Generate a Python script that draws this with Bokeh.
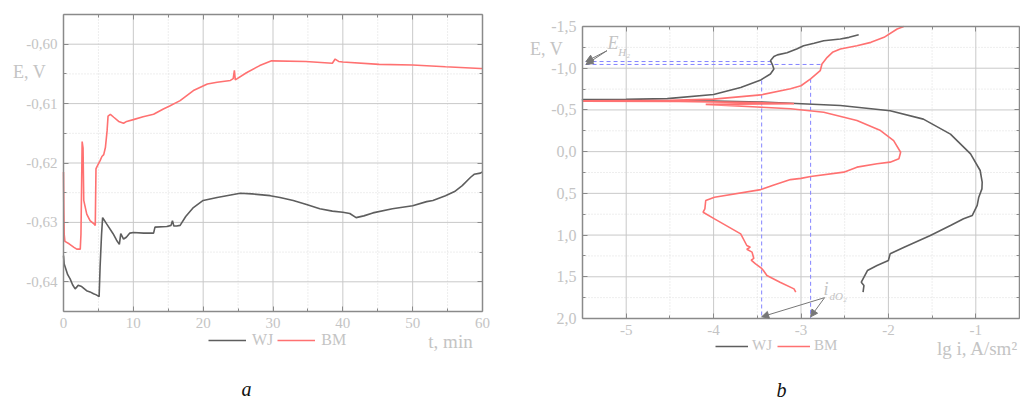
from bokeh.plotting import figure
from bokeh.layouts import row
from bokeh.models import (FixedTicker, CustomJSTickFormatter, LinearAxis, Label,
                          Legend, LegendItem, Arrow, NormalHead, Range1d)
from bokeh.embed import file_html
from bokeh.resources import INLINE

# ---------------- panel a : E vs time ----------------
t_wj = [0, 0.1, 0.24, 0.6, 0.95, 1.3, 1.67, 2.1, 2.6, 3.0, 3.3, 3.8, 4.3, 4.7, 5.1,
        5.24, 5.45, 5.6, 6.2, 7.1, 7.6, 8.0, 8.2, 8.6, 9.0, 9.5, 10.0, 11.5, 12.9, 13.1,
        14.8, 15.4, 15.6, 15.8, 16.2, 16.7, 17.5, 18.6, 20.0, 22.0, 25.3, 27.0, 29.6, 31.0,
        32.9, 34.8, 36.7, 38.5, 40.0, 41.0, 41.9, 43.0, 44.3, 47.1, 50.0, 52.0, 52.9, 54.7,
        56.0, 57.1, 58.3, 58.8, 59.7, 60.0]
e_wj = [-0.6356, -0.6370, -0.6375, -0.6388, -0.6395, -0.6405, -0.6412, -0.6406, -0.6408,
        -0.6412, -0.6415, -0.6417, -0.6420, -0.6422, -0.6425, -0.6375, -0.6320, -0.6292,
        -0.6303, -0.6319, -0.6330, -0.6337, -0.6319, -0.6328, -0.6325, -0.6318, -0.6317,
        -0.6318, -0.6318, -0.6308, -0.6307, -0.6305, -0.6297, -0.6306, -0.6306, -0.6305,
        -0.6290, -0.6275, -0.6263, -0.6258, -0.6251, -0.6252, -0.6255, -0.6258, -0.6263,
        -0.6270, -0.6277, -0.6281, -0.6283, -0.6285, -0.6292, -0.6289, -0.6284, -0.6277,
        -0.6272, -0.6265, -0.6263, -0.6255, -0.6248, -0.6238, -0.6224, -0.6219, -0.6217,
        -0.6215]

t_bm = [0, 0.05, 0.1, 0.2, 0.8, 1.5, 1.9, 2.4, 2.5, 2.6, 2.67, 2.8, 2.9, 3.33, 3.8, 4.4,
        4.55, 4.65, 4.76, 5.24, 5.5, 5.76, 6.0, 6.24, 6.38, 6.71, 7.2, 7.9, 8.6, 9.05, 10.0,
        11.4, 12.9, 14.3, 15.2, 16.7, 18.6, 20.6, 22.0, 23.9, 24.3, 24.47, 24.6, 26.2, 28.1,
        29.8, 34.7, 38.5, 38.9, 39.4, 40.0, 45.2, 50.0, 54.7, 59.7, 60.0]
e_bm = [-0.6215, -0.6280, -0.6320, -0.6332, -0.6336, -0.6342, -0.6345, -0.6345, -0.6320,
        -0.6230, -0.6164, -0.6175, -0.6263, -0.6286, -0.6297, -0.6303, -0.6305, -0.6210,
        -0.6207, -0.6196, -0.6189, -0.6186, -0.6174, -0.6146, -0.6121, -0.6118, -0.6123,
        -0.6130, -0.6133, -0.6130, -0.6127, -0.6122, -0.6118, -0.6109, -0.6104, -0.6095,
        -0.6078, -0.6067, -0.6064, -0.6061, -0.6058, -0.6044, -0.6060, -0.6048, -0.6036,
        -0.6028, -0.6029, -0.6032, -0.6025, -0.6029, -0.6030, -0.6034, -0.6035, -0.6038,
        -0.6041, -0.6041]

a_xbox = [0, 60]          # left, right
a_ybox = [-0.645, -0.595]  # bottom, top
a_xticks = [0, 10, 20, 30, 40, 50, 60]
a_xminor = [5, 15, 25, 35, 45, 55]
a_yticks = [-0.64, -0.63, -0.62, -0.61, -0.60]
a_yminor = [-0.635, -0.625, -0.615, -0.605]

# ---------------- panel b : polarisation curves ----------------
lgi_wj = [-2.34, -2.45, -2.55, -2.74, -2.85, -2.97, -3.05, -3.16, -3.27, -3.31, -3.35,
          -3.33, -3.31, -3.35, -3.46, -3.69, -4.0, -4.53, -5.0, -5.5, -5.5, -5.0, -4.0,
          -3.46, -3.12, -2.55, -1.98, -1.6, -1.29, -1.06, -0.95, -0.927, -0.93, -0.966,
          -0.984, -1.04, -1.14, -1.29, -1.52, -1.82, -1.98, -2.0, -2.13, -2.24, -2.31,
          -2.28, -2.29]
E_wj = [-1.40, -1.37, -1.35, -1.33, -1.30, -1.27, -1.23, -1.185, -1.16, -1.14, -1.09,
        -1.05, -0.99, -0.93, -0.86, -0.77, -0.685, -0.635, -0.627, -0.624, -0.618, -0.612,
        -0.605, -0.595, -0.58, -0.553, -0.49, -0.39, -0.21, 0.026, 0.226, 0.366, 0.446,
        0.546, 0.645, 0.765, 0.805, 0.885, 1.005, 1.145, 1.225, 1.305, 1.365, 1.425,
        1.565, 1.605, 1.685]

lgi_bm = [-1.825, -1.90, -2.05, -2.20, -2.36, -2.55, -2.64, -2.70, -2.76, -2.78, -2.89,
          -3.0, -3.12, -3.46, -4.0, -4.5, -5.5, -5.5, -4.4, -3.5, -3.08, -4.09, -3.5,
          -3.12, -2.74, -2.36, -2.09, -1.94, -1.86, -1.88, -1.98, -2.13, -2.36, -2.51,
          -2.89, -3.0, -3.12, -3.31, -3.46, -3.99, -4.09, -4.10, -4.12, -3.99, -3.69,
          -3.62, -3.58, -3.62, -3.56, -3.54, -3.57, -3.52, -3.45, -3.43, -3.39, -3.24,
          -3.08, -3.06]
E_bm = [-1.50, -1.47, -1.37, -1.31, -1.27, -1.23, -1.19, -1.13, -1.05, -0.97, -0.873,
        -0.79, -0.753, -0.68, -0.63, -0.615, -0.61, -0.606, -0.603, -0.588, -0.575,
        -0.567, -0.535, -0.515, -0.473, -0.373, -0.253, -0.133, 0.007, 0.086, 0.126,
        0.146, 0.186, 0.246, 0.298, 0.32, 0.335, 0.40, 0.455, 0.546, 0.586, 0.686, 0.726,
        0.806, 0.986, 1.125, 1.145, 1.17, 1.205, 1.28, 1.30, 1.345, 1.40, 1.425, 1.485,
        1.565, 1.645, 1.685]

# construction lines: hydrogen potentials and limiting diffusion currents
e_h2_levels = [-1.08, -1.045]
e_h2_ends = [-3.33, -2.76]
i_do2_levels = [-3.45, -2.89]
i_do2_tops = [-0.853, -0.873]

b_xbox = [-5.5, -0.5]     # left, right
b_ybox = [2.0, -1.5]      # bottom, top (E axis runs downward)
b_xticks = [-5, -4, -3, -2, -1]
b_xminor = [-4.5, -3.5, -2.5, -1.5]
b_yticks = [-1.5, -1.0, -0.5, 0.0, 0.5, 1.0, 1.5, 2.0]
b_yminor = [-1.25, -0.75, -0.25, 0.25, 0.75, 1.25, 1.75]

# ---------------- styles ----------------
TXT = "#c4c4c4"
AXIS = "#8a8a8a"
GRID = "#c9c9c9"
MINOR = "#dcdcdc"
WJ_COL = "#5e5e5e"
BM_COL = "#ff7171"
DASH = "#8484ff"
FONT = "'Liberation Serif', 'Times New Roman', serif"


def fmt(code):
    return CustomJSTickFormatter(code=code)


def make_fig(width, xr, yr):
    p = figure(width=width, height=403, x_range=xr, y_range=yr,
               x_axis_location=None, y_axis_location=None,
               output_backend="svg", toolbar_location=None,
               min_border=0, min_border_left=0, min_border_right=0,
               min_border_top=0, min_border_bottom=0)
    p.title.visible = False
    p.grid.visible = False
    p.outline_line_color = None
    p.background_fill_color = "white"
    p.border_fill_color = "white"
    return p


def box(p, xb, yb, xt, xm, yt, ym, xcode, ycode, xsize, ysize):
    # grid
    p.segment(x0=xm, y0=[yb[0]] * len(xm), x1=xm, y1=[yb[1]] * len(xm),
              line_color=MINOR, line_dash="1 2", line_width=1)
    p.segment(x0=[xb[0]] * len(ym), y0=ym, x1=[xb[1]] * len(ym), y1=ym,
              line_color=MINOR, line_dash="1 2", line_width=1)
    p.segment(x0=xt, y0=[yb[0]] * len(xt), x1=xt, y1=[yb[1]] * len(xt),
              line_color=GRID, line_width=1)
    p.segment(x0=[xb[0]] * len(yt), y0=yt, x1=[xb[1]] * len(yt), y1=yt,
              line_color=GRID, line_width=1)
    xtk = FixedTicker(ticks=xt, minor_ticks=xm)
    ytk = FixedTicker(ticks=yt, minor_ticks=ym)
    specs = [("below", xtk, yb[0], xb, xcode, xsize),
             ("above", xtk, yb[1], xb, "return ''", "1px"),
             ("left", ytk, xb[0], yb, ycode, ysize),
             ("right", ytk, xb[1], yb, "return ''", "1px")]
    for place, tk, loc, bnd, code, size in specs:
        ax = LinearAxis(ticker=tk, formatter=fmt(code), fixed_location=loc,
                        bounds=(min(bnd), max(bnd)))
        ax.axis_line_color = AXIS
        ax.axis_line_width = 1.5
        ax.major_tick_line_color = AXIS
        ax.minor_tick_line_color = AXIS
        ax.major_tick_in = 5
        ax.major_tick_out = 0
        ax.minor_tick_in = 3
        ax.minor_tick_out = 0
        ax.major_label_text_font = FONT
        ax.major_label_text_font_size = size
        ax.major_label_text_color = TXT
        ax.major_label_standoff = 6
        p.add_layout(ax, place)


def legend(p, r1, r2, loc, gw, size, standoff, spacing):
    lg = Legend(items=[LegendItem(label="WJ", renderers=[r1]),
                       LegendItem(label="BM", renderers=[r2])],
                location=loc, orientation="horizontal",
                border_line_alpha=0, background_fill_alpha=0,
                label_text_font=FONT, label_text_font_size=size,
                label_text_color=TXT, glyph_width=gw, glyph_height=16,
                label_height=16, label_standoff=standoff, spacing=spacing,
                padding=0, margin=0)
    p.add_layout(lg)


def label(p, x, y, text, size, color=TXT, style="normal", align="center"):
    p.add_layout(Label(x=x, y=y, text=text, text_font=FONT, text_font_size=size,
                       text_color=color, text_font_style=style, text_align=align,
                       text_baseline="middle"))


# ---------------- panel a ----------------
pa = make_fig(510, Range1d(-9.022, 64.01), Range1d(-0.660488, -0.592643))
box(pa, a_xbox, a_ybox, a_xticks, a_xminor, a_yticks, a_yminor,
    "return tick.toFixed(0)", "return tick.toFixed(2).replace('.', ',')", "15px", "15px")
ra1 = pa.line(t_wj, e_wj, line_color=WJ_COL, line_width=1.6)
ra2 = pa.line(t_bm, e_bm, line_color=BM_COL, line_width=1.6)
legend(pa, ra1, ra2, (208, 54), 38, "16px", 6, 4)
label(pa, -4.869, -0.60476, "E, V", "18px")
label(pa, 55.42, -0.65005, "t, min", "19px")
label(pa, 26.2, -0.65813, "a", "20px", color="#111111", style="italic")

# ---------------- panel b ----------------
pb = make_fig(510, Range1d(-6.3238, -0.48856), Range1d(3.0188, -1.8116))
box(pb, b_xbox, b_ybox, b_xticks, b_xminor, b_yticks, b_yminor,
    "return tick.toFixed(0)", "return tick.toFixed(1).replace('.', ',')", "15px", "16px")

for lev, end in zip(e_h2_levels, e_h2_ends):
    pb.line([-5.465, end], [lev, lev], line_color=DASH, line_dash="4 3", line_width=1)
for lev, top in zip(i_do2_levels, i_do2_tops):
    pb.line([lev, lev], [top, 2.0], line_color=DASH, line_dash="4 3", line_width=1)

rb1 = pb.line(lgi_wj, E_wj, line_color=WJ_COL, line_width=1.6)
rb2 = pb.line(lgi_bm, E_bm, line_color=BM_COL, line_width=1.6)
legend(pb, rb1, rb2, (205, 49), 33, "15px", 4, 5)

for lev in e_h2_levels:
    pb.add_layout(Arrow(end=NormalHead(size=7, line_color="#777777", fill_color="#777777"),
                        x_start=-5.22, y_start=-1.21, x_end=-5.46, y_end=lev,
                        line_color="#777777", line_width=1))
for lev in i_do2_levels:
    pb.add_layout(Arrow(end=NormalHead(size=7, line_color="#777777", fill_color="#777777"),
                        x_start=-2.73, y_start=1.75, x_end=lev, y_end=1.98,
                        line_color="#777777", line_width=1))

label(pb, -5.151, -1.308, "E", "18px", style="italic")
label(pb, -5.09, -1.19, "H₂", "11px", style="italic", align="left")
label(pb, -2.714, 1.65, "i", "18px", style="italic")
label(pb, -2.674, 1.736, "dO₂", "11px", style="italic", align="left")
label(pb, -5.912, -1.236, "E, V", "18px")
label(pb, -0.98, 2.36, "lg i, A/sm²", "19px")
label(pb, -3.223, 2.851, "b", "20px", color="#111111", style="italic")

layout = row(pa, pb)
open("out.html", "w").write(file_html(layout, INLINE))
